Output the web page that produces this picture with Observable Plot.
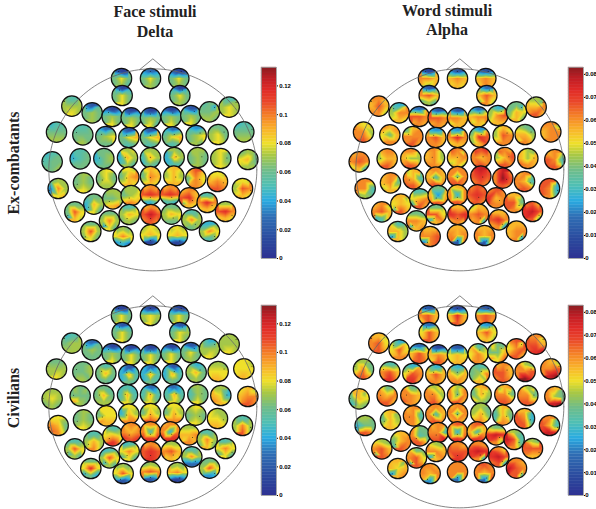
<!DOCTYPE html>
<html><head><meta charset="utf-8">
<script src="https://cdn.jsdelivr.net/npm/d3@7"></script>
<script src="https://cdn.jsdelivr.net/npm/@observablehq/plot@0.6"></script>
<style>
html,body{margin:0;padding:0;background:#fff;overflow:hidden}
#page{position:relative;width:596px;height:509px;overflow:hidden;background:#fff}
#page>svg{position:absolute;overflow:visible}
.t{position:absolute;font:bold 16px "Liberation Serif",serif;color:#222;white-space:nowrap;transform:translate(-50%,-50%)}
.r{transform:translate(-50%,-50%) rotate(-90deg)}
</style></head><body><div id="page"></div>
<script>
// electrode centres on the scalp montage
const electrodeX=[273,360,445,275,448,124,185,245,302,360,422,481,537,596,78,157,226,295,360,426,497,563,640,65,149,220,291,360,431,502,571,652,83,159,228,295,360,430,496,561,636,190,247,302,360,419,476,530,133,237,296,361,423,484,585,181,278,360,441,537];
const electrodeY=[84,84,84,135,135,167,187,198,202,202,199,195,184,170,245,253,258,261,261,259,255,252,244,334,325,324,322,322,321,321,324,327,414,397,385,380,378,377,383,393,414,461,445,435,433,433,442,456,484,511,492,492,491,508,483,543,558,553,555,542];
// per-electrode 3x3 topography levels (0..f of the colour bar): top, middle, bottom row
const faceExCombatants=[
"312797786","434797787","312797787","414797797","414797787",
"767888898","426787787","313787797","313787797","313787796","313787797","423787797","674778887","767898898",
"566777888","667777787","536789777","42479a767","42479a767","53579a767","546789787","777897898","566777888",
"567677778","667567777","777578677","9895a8686","8886a8576","7875a8566","888787787","898897898","7879a7888",
"7884b8a9a","787787898","898797888","9987ab9a9","9a97ba9a9","9a98a8aaa","aca7b9aba","998abaccb","9988cb9a9",
"7775a8596","8887789ab","888789aba","abacdc657","abacdc565","abacda6a9","667bdb9a9",
"7777c93a8","7778b8296","6678a9787","abacecbcb","7778a9777","6678b8878","888cdb9a9",
"7778c8797","7879b9353","8989a9414","8989a9313","5578b9768"];
const wordExCombatants=[
"314bbaa8a","424aba9a9","324aba9ba","424bca686","535aca7b8",
"bb9acabb8","6598bb9a9","43accbaba","424ccbaba","424bba8aa","537abb8a9","7578bc9aa","7747a98a7","886aabbca",
"a9abb8bca","bab97aabb","6abbbbbca","545bcabba","54abdb9aa","64a8dc7ac","8a88cbabb","876aa88ba","bb7abbabb",
"abbbcb8a5","abb8aabca","bb9a88bcb","ab8ab8bba","cb7aab8a8","dcdbabbcb","cba8acbcb","a87a8acba","ab9cb6cca",
"bbabb6787","abaab78aa","8abba6cca","abaa6abcb","bbbb7bccb","dedcdcbcb","bebbfcbcb","ababa6bcb","ccacb5cb6",
"aa79a95ca","6679ab5ca","777a4abcb","9abb5bbcb","bcbcdcbcb","bcbdabcbb","aaacc7cba",
"ab8bca46a","776bba3ab","777cc94ab","aaadcdaba","8aabcbab4","aaacdbab3","bcadecdc7",
"966aa83a8","aaabbc2bc","aaababc2c","aaababb2b","aaaabbab3"];
const faceCivilians=[
"212797797","313898797","312797797","424797797","424798797",
"567788888","436787777","313787797","313797797","313797797","313797797","424797787","756888898","888888898",
"777888898","778778887","7677a7676","5255a6576","5355a6576","5255a6576","7568a7787","887999aa9","9989999a9",
"888898787","878777b87","7767a7888","5656a6797","5356a6797","5356a6797","787687797","887a95ba9","9a8abbbcb",
"998ba7cb8","787787898","999799baa","9995a8bbb","9997a8bcb","9997a8bbb","898787898","988998aa9","7678b88c8",
"6678a88b8","7679a9bdb","ababab dcd".replace(" ",""),"abab6bddd","abab5bddd","888aab9ba","6678b87a7",
"6678c9586","5678c9486","5679b9696","abacdccdc","888bca9a9","6678b8333","6679b9696",
"7779d9474","7879c9424","787bcb424","787ab9313","7778c9545"];
const wordCivilians=[
"324bca9ca","313ada9ca","323bcbaca","4369caaca","547ac99a8",
"aa8bc9bca","8599c9abb","438acabcb","313aba9cb","3239a99aa","a689b9aba","a7677ab9c","bc89bcbca","bb8ccacde",
"8878b7bca","767bcabdb","65a9cbdda","757acabba","656a8abba","76678b8a8","abaccabcb","b86bbccfd","ba7bbcbef",
"aa77a9587","a78bab cca".replace(" ",""),"b77bbacba","a8abb8bca","a8bb7bbca","8ab7a8a87","7abbb7ccb","a8abb7ccb","ba7b87def",
"887577bcb","9a77a89a9","ababb6bb8","abab6abcb","abab7baba","8878a7ab9","7a86a78ba","aa7cb5cc7","bb7ca6ded",
"9aa7ab5cb","b77b67cca","ababb6cce","bcbb5bcdc","bcba6acdc","877dedcb7","b87ec6cb7",
"987bca4cb","a77bc93cb","987bba4ab","bbacccbdc","bbadedcb4","cb9decbc4","b87cccbaa",
"aa7a9a3ab","bbababa4b","bbbbbbb3b","bcbbabb3c","bbaecbcc5"];

const jetStops=[0,.1,.22,.3,.38,.46,.54,.6,.67,.74,.82,.88,.94,1];
const jetColors=["#2e3192","#2b4a9e","#2f6fb5","#29abe2","#4fbfb5","#6fbd8a","#a9c844","#efe02a","#f9b52a","#f58426","#e9452a","#e02b28","#c01e25","#8a1c20"];
const panels=[
 {levels:faceExCombatants,max:.1328,ticks:[0,.02,.04,.06,.08,.1,.12],left:30,top:50,barLeft:261,barTop:67,barH:191,pad:1.7},
 {levels:wordExCombatants,max:.083,ticks:[0,.01,.02,.03,.04,.05,.06,.07,.08],left:337.3,top:50,barLeft:567.5,barTop:67,barH:191,pad:.7},
 {levels:faceCivilians,max:.1328,ticks:[0,.02,.04,.06,.08,.1,.12],left:30,top:286.7,barLeft:261,barTop:305,barH:190,pad:1.7},
 {levels:wordCivilians,max:.083,ticks:[0,.01,.02,.03,.04,.05,.06,.07,.08],left:337.3,top:286.7,barLeft:567.5,barTop:305,barH:190,pad:.7}
];
const headAngles=d3.range(0,361,2);
const nose=[[328,57],[367,25],[405,57]];
const electrodeR=31, page=document.getElementById("page");

function colorOf(p){return {type:"linear",domain:jetStops.map(s=>s*p.max),range:jetColors,clamp:true};}

for(const p of panels){
  const marks=[];
  electrodeX.forEach((cx,i)=>{
    const cy=electrodeY[i], g=p.levels[i], s=[];
    for(let r=0;r<3;r++)for(let c=0;c<3;c++)
      s.push({x:cx+(c-1)*electrodeR*.68,y:cy+(r-1)*electrodeR*.68,v:parseInt(g[r*3+c],16)/15*p.max});
    marks.push(Plot.raster(s,{x:"x",y:"y",fill:"v",x1:cx-electrodeR,x2:cx+electrodeR,y1:cy-electrodeR,y2:cy+electrodeR,interpolate:"barycentric",pixelSize:.5}));
    marks.push(Plot.dot([[cx,cy]],{x:"0",y:"1",r:10.2,stroke:"#111",strokeWidth:1.2,fill:"none"}));
    marks.push(Plot.dot([[cx+(cx-367)*.09,cy+(cy-345)*.08]],{x:"0",y:"1",r:.5,fill:"#111",fillOpacity:.8}));
  });
  marks.push(Plot.line(headAngles,{x:a=>367+312*Math.cos(a*Math.PI/180),y:a=>358+303*Math.sin(a*Math.PI/180),stroke:"#666",strokeWidth:.8,curve:"linear"}));
  marks.push(Plot.line(nose,{x:"0",y:"1",stroke:"#666",strokeWidth:.8}));
  const head=Plot.plot({width:250,height:225,margin:0,x:{domain:[0,750],axis:null},y:{domain:[0,675],reverse:true,axis:null},color:colorOf(p),marks});
  head.querySelectorAll("image").forEach(im=>im.style.clipPath="circle(50%)");
  head.style.left=p.left+"px";head.style.top=p.top+"px";
  head.style.background="none";
  page.appendChild(head);

  const bands=d3.range(64);
  const bar=Plot.plot({width:60,height:p.barH+10,marginTop:5,marginBottom:5,marginLeft:0,marginRight:45,
    x:{domain:[0,1],axis:null},y:{domain:[0,p.max],axis:null},color:colorOf(p),
    marks:[
      Plot.rect(bands,{x1:0,x2:1,y1:b=>b/64*p.max,y2:b=>(b+1)/64*p.max,fill:b=>(b+.5)/64*p.max,stroke:b=>(b+.5)/64*p.max,strokeWidth:.3}),
      Plot.frame({stroke:"#999",strokeWidth:.8}),
      Plot.axisY({anchor:"right",ticks:p.ticks,tickSize:1,tickPadding:p.pad,tickFormat:d=>String(d),fontSize:6,fontWeight:"bold",fontFamily:"Liberation Sans",label:null})
    ]});
  bar.style.left=p.barLeft+"px";bar.style.top=(p.barTop-5)+"px";bar.style.background="none";
  page.appendChild(bar);
}
const texts=[["Face stimuli",155,12],["Delta",155,32],["Word stimuli",447,11],["Alpha",447,30]];
for(const [s,x,y] of texts){const d=document.createElement("div");d.className="t";d.textContent=s;d.style.left=x+"px";d.style.top=y+"px";page.appendChild(d);}
for(const [s,x,y] of [["Ex-combatants",14,163],["Civilians",14,398]]){const d=document.createElement("div");d.className="t r";d.textContent=s;d.style.left=x+"px";d.style.top=y+"px";page.appendChild(d);}
</script></body></html>
